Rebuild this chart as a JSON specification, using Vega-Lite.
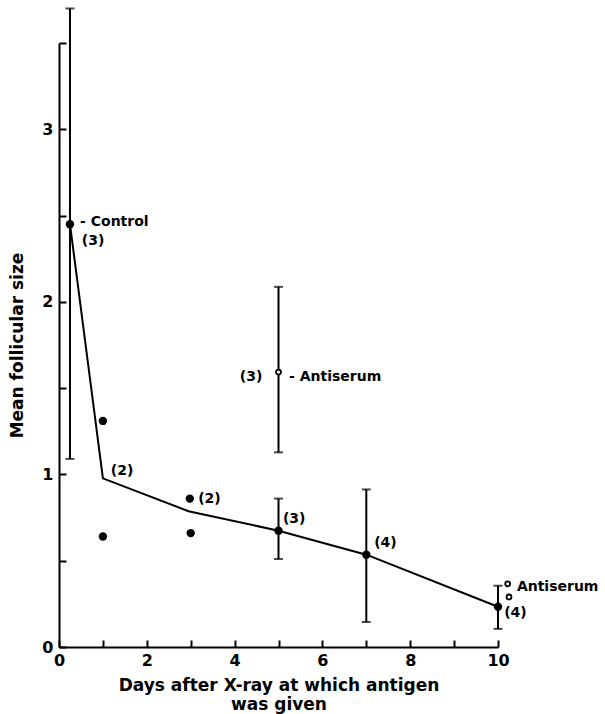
{
  "$schema": "https://vega.github.io/schema/vega-lite/v6.json",
  "width": 439,
  "height": 604,
  "autosize": "none",
  "padding": {"left": 59, "top": 43, "right": 107, "bottom": 67},
  "background": "white",
  "config": {
    "view": {"stroke": null},
    "font": "DejaVu Sans",
    "axis": {
      "grid": false,
      "domainColor": "black",
      "domainWidth": 2,
      "tickColor": "black",
      "tickWidth": 2,
      "tickSize": -7,
      "labelColor": "black",
      "labelFont": "DejaVu Sans",
      "labelFontWeight": "bold",
      "labelFontSize": 16,
      "titleColor": "black",
      "titleFont": "DejaVu Sans",
      "titleFontWeight": "bold",
      "titleFontSize": 17
    }
  },
  "datasets": {
    "means": [
      {"day": 0.25, "size": 2.45},
      {"day": 1, "size": 0.977},
      {"day": 2.95, "size": 0.787},
      {"day": 5, "size": 0.674},
      {"day": 7, "size": 0.535},
      {"day": 10, "size": 0.233}
    ],
    "errors": [
      {"day": 0.25, "lo": 1.09, "hi": 3.70},
      {"day": 5, "lo": 0.51, "hi": 0.86},
      {"day": 7, "lo": 0.145, "hi": 0.913},
      {"day": 10, "lo": 0.105, "hi": 0.355},
      {"day": 5, "lo": 1.128, "hi": 2.087}
    ],
    "filled": [
      {"day": 0.25, "size": 2.45},
      {"day": 1, "size": 1.31},
      {"day": 1, "size": 0.64},
      {"day": 2.98, "size": 0.86},
      {"day": 3, "size": 0.66},
      {"day": 5, "size": 0.674},
      {"day": 7, "size": 0.535},
      {"day": 10, "size": 0.233}
    ],
    "open": [
      {"day": 5, "size": 1.593},
      {"day": 10.22, "size": 0.366},
      {"day": 10.25, "size": 0.29}
    ],
    "labels": [
      {"day": 0.48, "size": 2.46, "text": "- Control"},
      {"day": 0.52, "size": 2.35, "text": "(3)"},
      {"day": 1.18, "size": 1.02, "text": "(2)"},
      {"day": 3.17, "size": 0.86, "text": "(2)"},
      {"day": 5.1, "size": 0.74, "text": "(3)"},
      {"day": 7.18, "size": 0.6, "text": "(4)"},
      {"day": 4.12, "size": 1.565, "text": "(3)"},
      {"day": 5.24, "size": 1.565, "text": "- Antiserum"},
      {"day": 10.43, "size": 0.35, "text": "Antiserum"},
      {"day": 10.14, "size": 0.197, "text": "(4)"}
    ]
  },
  "layer": [
    {
      "data": {"name": "means"},
      "mark": {"type": "line", "color": "black", "strokeWidth": 2},
      "encoding": {
        "x": {
          "field": "day", "type": "quantitative",
          "scale": {"domain": [0, 10], "nice": false},
          "axis": {
            "title": ["Days after X-ray at which antigen", "was given"],
            "titleLineHeight": 19,
            "titlePadding": 9,
            "values": [0, 1, 2, 3, 4, 5, 6, 7, 8, 9, 10],
            "labelExpr": "datum.value % 2 == 0 ? format(datum.value, 'd') : ''",
            "labelPadding": 12,
            "labelFlush": false
          }
        },
        "y": {
          "field": "size", "type": "quantitative",
          "scale": {"domain": [0, 3.5], "nice": false},
          "axis": {
            "title": "Mean follicular size",
            "titlePadding": 15,
            "values": [0, 0.5, 1, 1.5, 2, 2.5, 3, 3.5],
            "labelExpr": "datum.value % 1 == 0 ? format(datum.value, 'd') : ''",
            "labelPadding": 13,
            "labelFlush": false
          }
        }
      }
    },
    {
      "data": {"name": "errors"},
      "mark": {"type": "rule", "color": "black", "strokeWidth": 2},
      "encoding": {
        "x": {"field": "day", "type": "quantitative"},
        "y": {"field": "lo", "type": "quantitative"},
        "y2": {"field": "hi"}
      }
    },
    {
      "data": {"name": "errors"},
      "mark": {"type": "tick", "color": "black", "orient": "horizontal", "size": 9, "thickness": 2},
      "encoding": {
        "x": {"field": "day", "type": "quantitative"},
        "y": {"field": "lo", "type": "quantitative"}
      }
    },
    {
      "data": {"name": "errors"},
      "mark": {"type": "tick", "color": "black", "orient": "horizontal", "size": 9, "thickness": 2},
      "encoding": {
        "x": {"field": "day", "type": "quantitative"},
        "y": {"field": "hi", "type": "quantitative"}
      }
    },
    {
      "data": {"name": "filled"},
      "mark": {"type": "circle", "color": "black", "opacity": 1, "size": 70},
      "encoding": {
        "x": {"field": "day", "type": "quantitative"},
        "y": {"field": "size", "type": "quantitative"}
      }
    },
    {
      "data": {"name": "open"},
      "mark": {"type": "point", "shape": "circle", "fill": "white", "filled": false, "stroke": "black", "strokeWidth": 1.8, "opacity": 1, "size": 24},
      "encoding": {
        "x": {"field": "day", "type": "quantitative"},
        "y": {"field": "size", "type": "quantitative"}
      }
    },
    {
      "data": {"name": "labels"},
      "mark": {"type": "text", "align": "left", "baseline": "middle", "font": "DejaVu Sans", "fontWeight": "bold", "fontSize": 14, "color": "black"},
      "encoding": {
        "x": {"field": "day", "type": "quantitative"},
        "y": {"field": "size", "type": "quantitative"},
        "text": {"field": "text"}
      }
    }
  ]
}
